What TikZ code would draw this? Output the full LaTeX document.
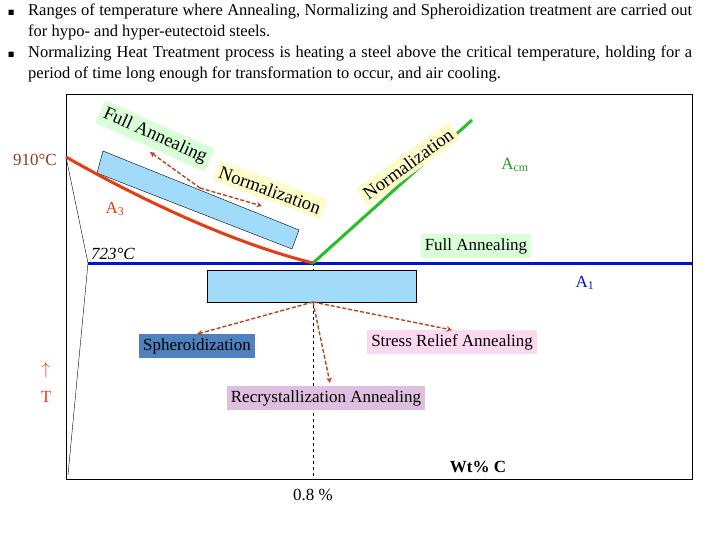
\documentclass[tikz,border=0pt]{standalone}
\usepackage{fontspec}
\setmainfont{Liberation Serif}
\usepackage{amssymb}
\definecolor{brn}{RGB}{180,70,30}
\definecolor{redl}{RGB}{230,60,20}
\definecolor{grnl}{RGB}{40,190,40}
\definecolor{blul}{RGB}{0,20,200}
\definecolor{boxb}{RGB}{160,220,250}
\tikzset{
  lbl/.style={inner sep=4pt, font=\fontsize{17}{17}\selectfont},
  tilt/.style={inner sep=4pt, font=\fontsize{18.5}{18.5}\selectfont},
  hint/.style={->, >=stealth, dash pattern=on 4pt off 2pt, line width=1.4pt, brn},
}
\begin{document}
\begin{tikzpicture}[x=1pt,y=-1pt]
    \useasboundingbox (0,0) rectangle (720,540);
    \node[anchor=north west, text width=684pt, align=justify, inner sep=0pt,
      font=\fontsize{16.5}{21}\selectfont] (head) at (8,4)
      {\hangindent=20pt\hangafter=1\noindent\makebox[20pt][l]{\scriptsize$\blacksquare$}Ranges of temperature where Annealing, Normalizing and Spheroidization treatment are carried out for hypo- and hyper-eutectoid steels.\par
      \hangindent=20pt\hangafter=1\noindent\makebox[20pt][l]{\scriptsize$\blacksquare$}Normalizing Heat Treatment process is heating a steel above the critical temperature, holding for a period of time long enough for transformation to occur, and air cooling.\par};

    \draw (66,94) rectangle (692,479);
    \draw (66,157) -- (88,263) -- (68,475);
    \draw[dashed] (313,263) -- (313,479);

    % treatment windows
    \fill[boxb, draw=black] (103,151) -- (299,230) -- (292,249) -- (97,173) -- cycle;
    \filldraw[fill=boxb] (207,270) rectangle (416,302);

    % phase lines
    \draw[blul, line width=3pt] (88,263) -- (692,263);
    \draw[redl, line width=3pt] (66,157) .. controls (150,205) and (240,245) .. (313,263);
    \draw[grnl, line width=3pt] (313,263) -- (472,120);

    % labels
    \node[tilt, fill=green!15, rotate=-24] (fa) at (155,136) {Full Annealing};
    \node[tilt, fill=yellow!20, rotate=-20] (nl) at (270,190) {Normalization};
    \node[tilt, fill=yellow!20, rotate=36] (nr) at (408,164) {Normalization};
    \node[lbl, text=grnl!80!black] (acm) at (515,165) {A\textsubscript{cm}};
    \node[lbl, fill=green!15] (fa2) at (476,246) {Full Annealing};
    \node[lbl, text=blul] (a1) at (585,283) {A\textsubscript{1}};
    \node[lbl, text=brn!80!black] (t910) at (35,160) {910\textdegree C};
    \node[lbl, text=redl] (a3) at (115,209) {A\textsubscript{3}};
    \node[lbl, font=\itshape\fontsize{17}{17}\selectfont] (t723) at (113,254) {723\textdegree C};
    \node[lbl, fill={rgb,255:red,79;green,129;blue,189}] (sph) at (197,346) {Spheroidization};
    \node[lbl, fill=magenta!15] (sra) at (452,342) {Stress Relief Annealing};
    \node[lbl, fill=violet!25] (rca) at (326,398) {Recrystallization Annealing};
    \node[lbl, text=redl] (up) at (46,370) {$\uparrow$};
    \node[lbl, text=redl] (tt) at (46,397) {T};
    \node[lbl, font=\bfseries\fontsize{17}{17}\selectfont] (wt) at (478,467) {Wt\% C};
    \node[lbl] (c08) at (313,495) {0.8 \%};

    % arrows
    \coordinate (up0) at (200,188);
    \coordinate (lo0) at (313,302);
    \draw[hint] (up0) -- (150,152);
    \draw[hint] (up0) -- (262,206);
    \draw[hint] (lo0) -- (sph.north);
    \draw[hint] (lo0) -- (sra.north);
    \draw[hint] (lo0) -- (330,383);
\end{tikzpicture}
\end{document}
